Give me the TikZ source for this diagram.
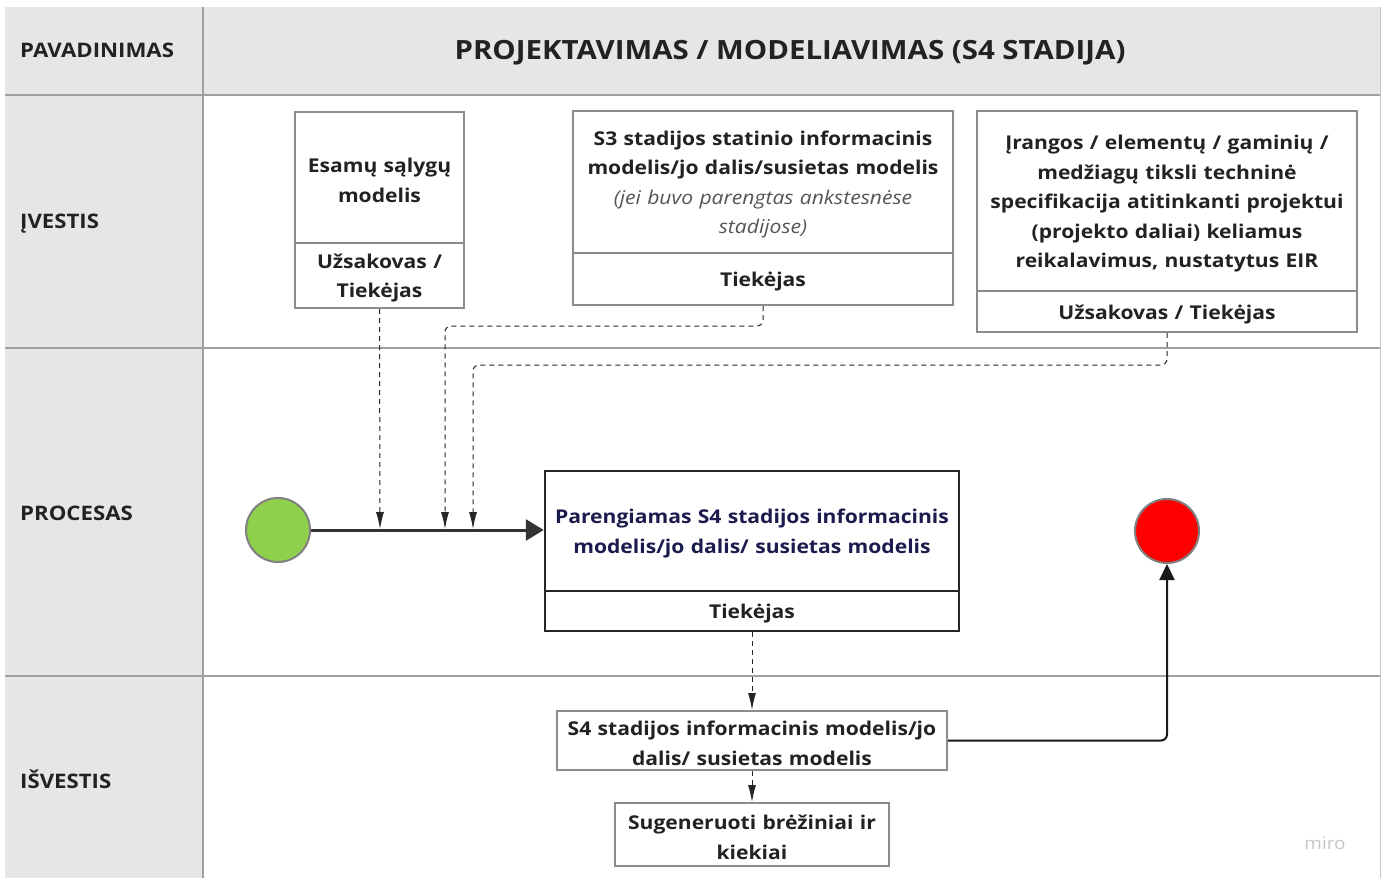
\documentclass[tikz,border=0pt]{standalone}
\usepackage{fontspec}
\setmainfont{Open Sans}[FakeStretch=1.11]
\usetikzlibrary{arrows.meta}
\definecolor{gridc}{HTML}{A0A0A0}
\definecolor{hdr}{HTML}{E6E6E6}
\definecolor{boxc}{HTML}{8C8C8C}
\definecolor{navy}{HTML}{1B1B4D}
\definecolor{startg}{HTML}{8ECF4B}
\definecolor{endr}{HTML}{FF0000}
\definecolor{txt}{HTML}{222222}
\definecolor{ital}{HTML}{555555}
\begin{document}
\begin{tikzpicture}[x=1pt,y=-1pt,
  gridline/.style={draw=gridc,line width=1.5pt},
  lbl/.style={anchor=west,inner sep=0pt,text=txt,font=\bfseries\fontsize{20}{24}\selectfont},
  inbox/.style={draw=boxc,line width=2pt,fill=white,align=center,inner sep=2pt,text=txt,
     font=\bfseries\fontsize{19}{29.5}\selectfont,execute at begin node={\rule{0pt}{20pt}}},
  procbox/.style={draw=black!85,line width=2.5pt,fill=white,align=center,inner sep=2pt,text=txt,
     font=\bfseries\fontsize{19}{29.5}\selectfont,execute at begin node={\rule{0pt}{20pt}}},
  dasharrow/.style={draw=black!85,line width=1pt,dash pattern=on 5pt off 4pt,
     -{Latex[length=17pt,width=8pt]}},
  mainarrow/.style={draw=black!80,line width=3pt,-{Triangle[length=18pt,width=21pt]}},
  endarrow/.style={draw=black!90,line width=2pt,-{Triangle[length=16pt,width=15pt]}},
  evt/.style={circle,draw=gray,line width=2pt,minimum size=64pt,inner sep=0pt}]
\useasboundingbox (0,0) rectangle (1385,878);
\fill[white] (0,0) rectangle (1385,878);
% header and label column
\fill[hdr] (5,7) rectangle (1380,95);
\fill[hdr] (5,95) rectangle (203,878);
\draw[gridline] (5,95) -- (1380,95);
\draw[gridline] (5,348) -- (1380,348);
\draw[gridline] (5,676) -- (1380,676);
\draw[gridline] (203,7) -- (203,878);
\draw[draw=gridc!60,line width=1pt] (1380,7) -- (1380,878);
% labels
\node[lbl] (lname) at (20,50) {PAVADINIMAS};
\node[inner sep=0pt,text=txt,font=\bfseries\fontsize{26.5}{30}\selectfont] (title) at (790,53) {PROJEKTAVIMAS / MODELIAVIMAS (S4 STADIJA)};
\node[lbl] (lin) at (20,224) {ĮVESTIS};
\node[lbl] (lproc) at (20,513) {PROCESAS};
\node[lbl] (lout) at (20,779) {IŠVESTIS};
% input box 1
\node[inbox,minimum width=169pt,minimum height=131pt,text width=160pt] (b1t) at (379.5,177.5) {Esamų sąlygų\\modelis};
\node[inbox,minimum width=169pt,minimum height=65pt,text width=160pt] (b1b) at (379.5,275.5) {Užsakovas /\\Tiekėjas};
% input box 2
\node[inbox,minimum width=380pt,minimum height=143pt,text width=370pt] (b2t) at (763,182)
  {S3 stadijos statinio informacinis\\modelis/jo dalis/susietas modelis\\{\mdseries\itshape\color{ital}(jei buvo parengtas ankstesnėse}\\{\mdseries\itshape\color{ital}stadijose)}};
\node[inbox,minimum width=380pt,minimum height=52pt,text width=370pt] (b2b) at (763,279) {Tiekėjas};
% input box 3
\node[inbox,minimum width=380pt,minimum height=181pt,text width=370pt] (b3t) at (1167,201)
  {Įrangos / elementų / gaminių /\\medžiagų tiksli techninė\\specifikacija atitinkanti projektui\\(projekto daliai) keliamus\\reikalavimus, nustatytus EIR};
\node[inbox,minimum width=380pt,minimum height=41pt,text width=370pt] (b3b) at (1167,311.5) {Užsakovas / Tiekėjas};
% process
\node[procbox,minimum width=414pt,minimum height=120pt,text width=404pt,text=navy] (pt) at (752,531)
  {Parengiamas S4 stadijos informacinis\\modelis/jo dalis/ susietas modelis};
\node[procbox,minimum width=414pt,minimum height=40pt,text width=404pt] (pb) at (752,611) {Tiekėjas};
% events
\node[evt,fill=startg] (start) at (278,530) {};
\node[evt,fill=endr] (end) at (1167,531) {};
% outputs
\node[inbox,minimum width=390pt,minimum height=59pt,text width=380pt] (out) at (752,740.5)
  {S4 stadijos informacinis modelis/jo\\dalis/ susietas modelis};
\node[inbox,minimum width=274pt,minimum height=63pt,text width=264pt] (gen) at (752,834.5)
  {Sugeneruoti brėžiniai ir\\kiekiai};
\node[text=gray!45,font=\fontsize{17}{20}\selectfont,inner sep=0pt] (miro) at (1325,843) {miro};
% connectors
\coordinate (j1) at (380,529);
\coordinate (j2) at (445,529);
\coordinate (j3) at (473,529);
\draw[mainarrow] (start.east) -- (start.east -| pt.west);
\draw[dasharrow] (b1b.south) -- (j1);
\draw[dasharrow,rounded corners=6pt] (b2b.south) -- ++(0,20) -| (j2);
\draw[dasharrow,rounded corners=6pt] (b3b.south) -- ++(0,32) -| (j3);
\draw[dasharrow] (pb.south) -- (out.north);
\draw[dasharrow] (out.south) -- (gen.north);
\draw[endarrow,rounded corners=6pt] (out.east) -| (end.south);
\end{tikzpicture}
\end{document}
